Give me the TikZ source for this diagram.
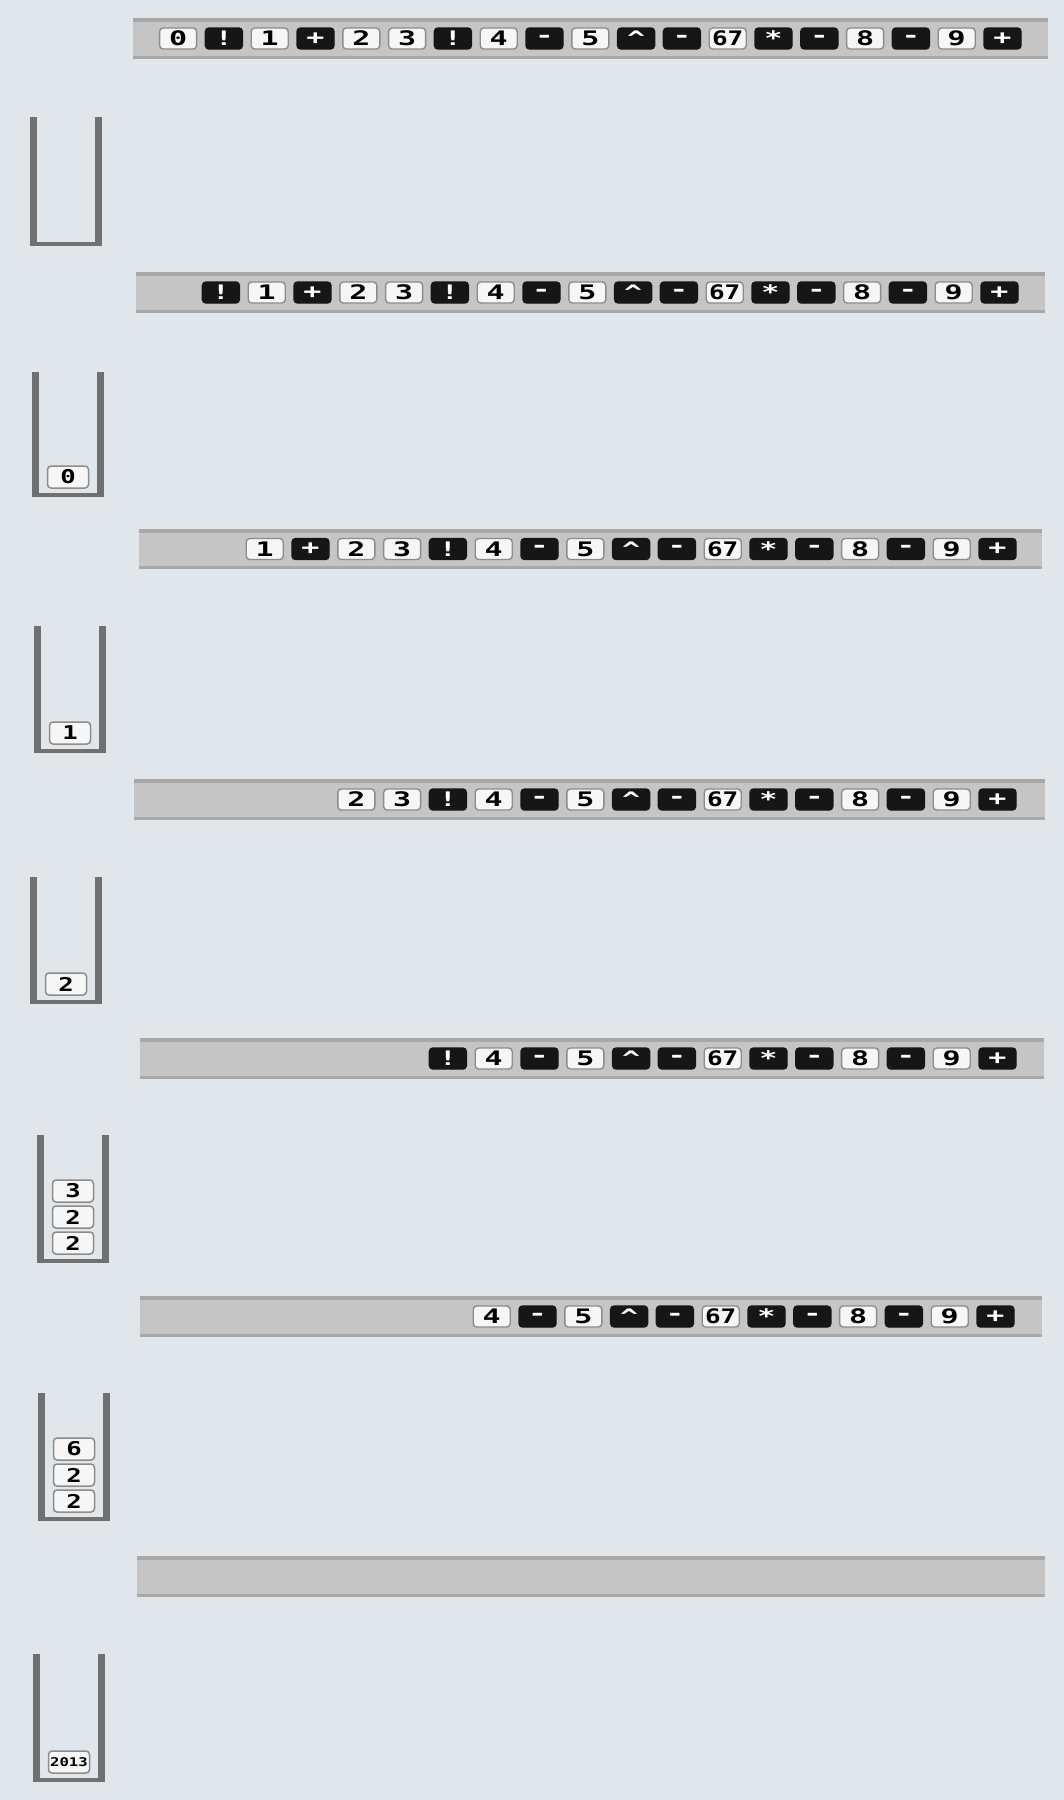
\documentclass[tikz,border=0pt]{standalone}
\usepackage{fontspec}
\usepackage{graphicx}
\newfontfamily\tokfont{DejaVu Sans Mono}
\definecolor{bg}{RGB}{225,230,235}
\definecolor{barfill}{RGB}{197,197,197}
\definecolor{baredge}{RGB}{168,168,168}
\definecolor{wall}{RGB}{112,112,112}
\definecolor{tokborder}{RGB}{140,140,140}
\definecolor{tokfill}{RGB}{246,246,246}
\definecolor{tokdark}{RGB}{22,22,22}
\newcommand\drawbar[4]{%
  \fill[barfill] (#1,#2) rectangle (#3,#4);
  \fill[baredge] (#1,#2) rectangle (#3,#2+4);
  \fill[baredge] (#1,#4-3.5) rectangle (#3,#4);
}
\newcommand\drawstack[3]{%
  \fill[wall] (#1,#2) rectangle (#1+7,#3);
  \fill[wall] (#1+65,#2) rectangle (#1+72,#3);
  \fill[wall] (#1,#3-4.5) rectangle (#1+72,#3);
}
% #1 name prefix, #2 y centre, #3 right edge, #4 count, #5 list
\newcommand\tokrow[5]{%
  \foreach \t/\s [count=\i from 0] in {#5} {
    \pgfmathsetmacro{\cx}{#3-18.5-(#4-1-\i)*45.8}
    \node[tok\t] (#1t\i) at (\cx,#2) {\scalebox{\sx}[1]{\s}};
  }
}
\begin{document}
\begin{tikzpicture}[x=1pt,y=-1pt,
  tokbase/.style={rectangle, rounded corners=3.5pt, minimum width=37pt,
    minimum height=21pt, inner sep=0pt, line width=1.4pt,
    font=\tokfont\bfseries\fontsize{20}{20}\selectfont},
  tokl/.style={tokbase, draw=tokborder, fill=tokfill, text=black, /utils/exec={\def\sx{1.5}}},
  tokw/.style={tokbase, draw=tokborder, fill=tokfill, text=black, /utils/exec={\def\sx{1.3}}},
  tokd/.style={tokbase, draw=tokdark, fill=tokdark, text=white, /utils/exec={\def\sx{1.5}}},
  stok/.style={rectangle, rounded corners=3.5pt, minimum width=41pt,
    minimum height=22pt, inner sep=0pt, line width=1.5pt,
    draw=tokborder, fill=tokfill, text=black,
    font=\tokfont\bfseries\fontsize{19}{19}\selectfont},
  stoksmall/.style={stok, font=\tokfont\bfseries\fontsize{12}{12}\selectfont}
]
\fill[bg] (0,0) rectangle (1064,1800);
\useasboundingbox (0,0) rectangle (1064,1800);

% bars
\drawbar{133}{18}{1048}{59}
\drawbar{136}{272}{1045}{313}
\drawbar{139}{529}{1042}{569}
\drawbar{134}{779}{1045}{820}
\drawbar{140}{1038}{1044}{1079}
\drawbar{140}{1296}{1042}{1337}
\drawbar{137}{1556}{1045}{1597}

% token rows
\tokrow{a}{38.5}{1021}{19}{l/0, d/!, l/1, d/+, l/2, l/3, d/!, l/4, d/-, l/5, d/\textasciicircum, d/-, w/67, d/*, d/-, l/8, d/-, l/9, d/+}
\tokrow{b}{292.5}{1018}{18}{d/!, l/1, d/+, l/2, l/3, d/!, l/4, d/-, l/5, d/\textasciicircum, d/-, w/67, d/*, d/-, l/8, d/-, l/9, d/+}
\tokrow{c}{549}{1016}{17}{l/1, d/+, l/2, l/3, d/!, l/4, d/-, l/5, d/\textasciicircum, d/-, w/67, d/*, d/-, l/8, d/-, l/9, d/+}
\tokrow{d}{799.5}{1016}{15}{l/2, l/3, d/!, l/4, d/-, l/5, d/\textasciicircum, d/-, w/67, d/*, d/-, l/8, d/-, l/9, d/+}
\tokrow{e}{1058.5}{1016}{13}{d/!, l/4, d/-, l/5, d/\textasciicircum, d/-, w/67, d/*, d/-, l/8, d/-, l/9, d/+}
\tokrow{f}{1316.5}{1014}{12}{l/4, d/-, l/5, d/\textasciicircum, d/-, w/67, d/*, d/-, l/8, d/-, l/9, d/+}

% stacks
\drawstack{30}{117}{246}
\drawstack{32}{372}{497}
\drawstack{34}{626}{753}
\drawstack{30}{877}{1004}
\drawstack{37}{1135}{1263}
\drawstack{38}{1393}{1521}
\drawstack{33}{1654}{1782}

% stack contents
\node[stok] (s2a) at (68,477) {\scalebox{1.35}[1]{0}};
\node[stok] (s3a) at (70,733) {\scalebox{1.35}[1]{1}};
\node[stok] (s4a) at (66,984) {\scalebox{1.35}[1]{2}};
\node[stok] (s5a) at (73,1243) {\scalebox{1.35}[1]{2}};
\node[stok] (s5b) at (73,1217) {\scalebox{1.35}[1]{2}};
\node[stok] (s5c) at (73,1191) {\scalebox{1.35}[1]{3}};
\node[stok] (s6a) at (74,1501) {\scalebox{1.35}[1]{2}};
\node[stok] (s6b) at (74,1475) {\scalebox{1.35}[1]{2}};
\node[stok] (s6c) at (74,1449) {\scalebox{1.35}[1]{6}};
\node[stoksmall] (s7a) at (69,1762) {\scalebox{1.3}[1]{2013}};
\end{tikzpicture}
\end{document}
